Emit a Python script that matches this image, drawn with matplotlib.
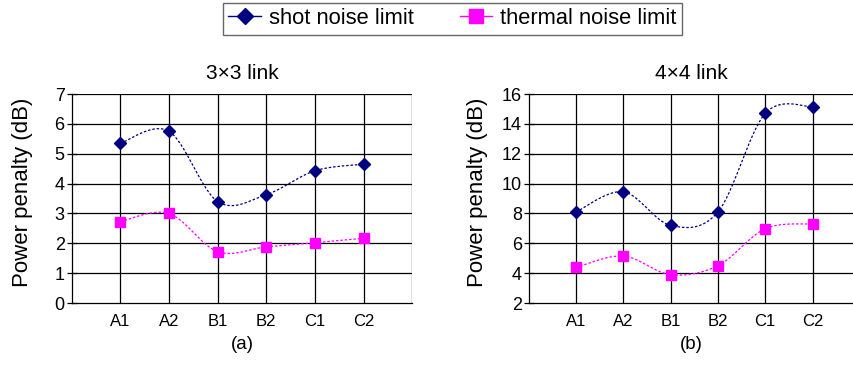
import numpy as np
import matplotlib.pyplot as plt
from matplotlib.lines import Line2D

plt.rcParams['font.family'] = ['Liberation Sans', 'DejaVu Sans']

# Daten
categories = ["A1", "A2", "B1", "B2", "C1", "C2"]
shot_3x3 = [5.35, 5.75, 3.4, 3.63, 4.43, 4.65]
thermal_3x3 = [2.73, 3.0, 1.72, 1.88, 2.02, 2.17]
shot_4x4 = [8.1, 9.45, 7.2, 8.1, 14.7, 15.15]
thermal_4x4 = [4.38, 5.15, 3.9, 4.5, 6.98, 7.3]

navy = '#000080'
magenta = '#FF00FF'


def smooth(x, y, n=30):
    # Bezier-Glaettung wie in Excel (Kontrollpunkte aus Nachbarpunkten)
    x = np.asarray(x, float)
    y = np.asarray(y, float)
    px, py = [], []
    for i in range(len(x) - 1):
        p0 = (x[max(i - 1, 0)], y[max(i - 1, 0)])
        p1 = (x[i], y[i])
        p2 = (x[i + 1], y[i + 1])
        p3 = (x[min(i + 2, len(x) - 1)], y[min(i + 2, len(y) - 1)])
        c1 = (p1[0] + (p2[0] - p0[0]) / 6, p1[1] + (p2[1] - p0[1]) / 6)
        c2 = (p2[0] - (p3[0] - p1[0]) / 6, p2[1] - (p3[1] - p1[1]) / 6)
        t = np.linspace(0, 1, n)
        bx = (1 - t)**3 * p1[0] + 3 * (1 - t)**2 * t * c1[0] + 3 * (1 - t) * t**2 * c2[0] + t**3 * p2[0]
        by = (1 - t)**3 * p1[1] + 3 * (1 - t)**2 * t * c1[1] + 3 * (1 - t) * t**2 * c2[1] + t**3 * p2[1]
        px.extend(bx)
        py.extend(by)
    return np.array(px), np.array(py)


def draw(ax, shot, thermal, ylim, step, xmax, title, sub, label_x):
    xs = np.arange(1, len(categories) + 1)
    for vals, col, mk, ms in [(shot, navy, 'D', 6), (thermal, magenta, 's', 7.5)]:
        sx, sy = smooth(xs, vals)
        ax.plot(sx, sy, color=col, lw=0.9, ls=(0, (2, 1.5)), zorder=3)
        ax.plot(xs, vals, ls='none', marker=mk, ms=ms, color=col, zorder=4)
    ax.set_xlim(0, xmax)
    ax.set_ylim(*ylim)
    ax.set_yticks(np.arange(ylim[0], ylim[1] + 0.1, step))
    ax.set_xticks(xs)
    ax.set_xticklabels(categories)
    for v in np.arange(ylim[0] + step, ylim[1] + 0.1, step):
        ax.axhline(v, color='black', lw=0.9, zorder=1)
    for v in range(1, 8):
        ax.axvline(v, color='black', lw=0.9, zorder=1)
    for s in ['top', 'right']:
        ax.spines[s].set_visible(False)
    ax.spines['left'].set_linewidth(0.9)
    ax.spines['bottom'].set_linewidth(0.9)
    ax.tick_params(axis='x', length=0, labelsize=12, pad=8)
    ax.tick_params(axis='y', direction='inout', length=7, labelsize=13, width=0.9, pad=1.5)
    ax.set_ylabel("Power penalty (dB)", fontsize=16)
    ax.yaxis.set_label_coords(label_x, 0.53)
    ax.set_title(title, fontsize=15, pad=10.5)
    ax.set_xlabel(sub, fontsize=13.5, labelpad=5)


fig = plt.figure(figsize=(8.54, 3.74), dpi=100)
ax1 = fig.add_axes([0.0839, 0.1898, 0.3988, 0.5588])
ax2 = fig.add_axes([0.6191, 0.1898, 0.3800, 0.5588])

draw(ax1, shot_3x3, thermal_3x3, (0, 7), 1, 7, "3\u00d73 link", "(a)", -0.114)
draw(ax2, shot_4x4, thermal_4x4, (2, 16), 2, 6.86, "4\u00d74 link", "(b)", -0.126)

handles = [Line2D([], [], color=navy, marker='D', ms=8, lw=1),
           Line2D([], [], color=magenta, marker='s', ms=9.5, lw=1)]
leg = fig.legend(handles, ["shot noise limit", "thermal noise limit"], loc='upper left',
                 bbox_to_anchor=(0.261, 0.993), ncol=2, fontsize=15.75, frameon=True,
                 fancybox=False, borderpad=0.25, handlelength=1.5, columnspacing=2.1,
                 handletextpad=0.35, borderaxespad=0)
leg.get_frame().set_edgecolor('#404040')
leg.get_frame().set_linewidth(1)

fig.savefig("out.png", dpi=100)
